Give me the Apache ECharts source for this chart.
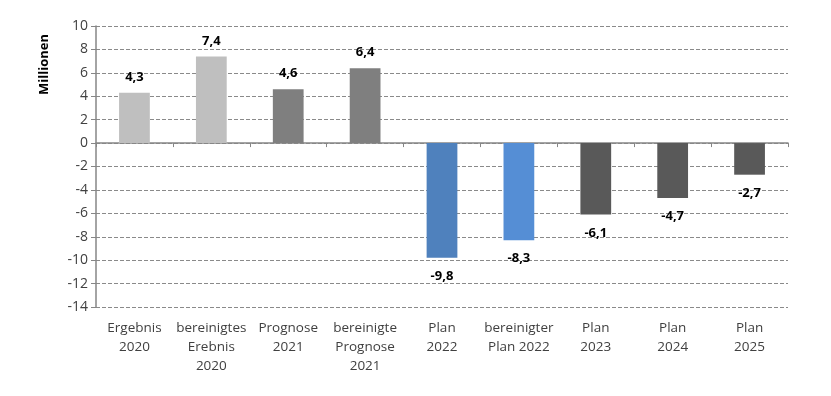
<!DOCTYPE html>
<html><head><meta charset="utf-8">
<script src="https://cdn.jsdelivr.net/npm/echarts@6/dist/echarts.min.js"></script>
<style>html,body{margin:0;padding:0;background:#fff}#c{width:831px;height:396px}</style>
</head><body><div id="c"></div>
<script>
const categories = ["Ergebnis\n2020","bereinigtes\nErebnis\n2020","Prognose\n2021","bereinigte\nPrognose\n2021","Plan\n2022","bereinigter\nPlan 2022","Plan\n2023","Plan\n2024","Plan\n2025"];
const values = [4.3, 7.4, 4.6, 6.4, -9.8, -8.3, -6.1, -4.7, -2.7];
const barColors = ["#BFBFBF","#BFBFBF","#7F7F7F","#7F7F7F","#4F81BD","#558ED5","#595959","#595959","#595959"];
const yTicks = {min:-14, max:10, interval:2};
const yName = "Millionen";

const font = "'Open Sans', sans-serif";
const chart = echarts.init(document.getElementById('c'));
chart.setOption({
  animation:false,
  grid:{left:96, right:43, top:26, bottom:89},
  graphic:[{type:'text', left:38, top:34, rotation:Math.PI/2,
    style:{text:yName, font:"bold 13px "+font, fill:"#000"}}],
  xAxis:[{type:'category', data:categories, position:'bottom',
    axisLine:{show:false, onZero:false},
    axisTick:{show:false},
    axisLabel:{color:'#404040', fontFamily:font, fontSize:13.5, lineHeight:19, margin:12, interval:0}},
   {type:'category', data:categories, position:'top',
    axisLine:{onZero:true, lineStyle:{color:'#868686', width:1.5}},
    axisTick:{show:true, inside:true, length:4, lineStyle:{color:'#868686'}},
    axisLabel:{show:false}}],
  yAxis:{type:'value', min:yTicks.min, max:yTicks.max, interval:yTicks.interval,
    axisLine:{show:true, lineStyle:{color:'#868686', width:1.5}},
    axisTick:{show:true, length:5, lineStyle:{color:'#868686'}},
    axisLabel:{color:'#404040', fontFamily:font, fontSize:14, margin:8},
    splitLine:{lineStyle:{color:'#8a8a8a', type:[4,2], width:1}}},
  series:[{type:'bar', barWidth:'40%', xAxisIndex:0,
    data: values.map((v,i)=>({value:v, itemStyle:{color:barColors[i]},
      label: v>=0 ? {position:'top', distance:9} : {position:'bottom', distance:12}})),
    label:{show:true, fontFamily:font, fontWeight:'bold', fontSize:13, color:'#000',
      formatter:p=>String(p.value).replace('.',',')}
  }]
});
</script></body></html>
